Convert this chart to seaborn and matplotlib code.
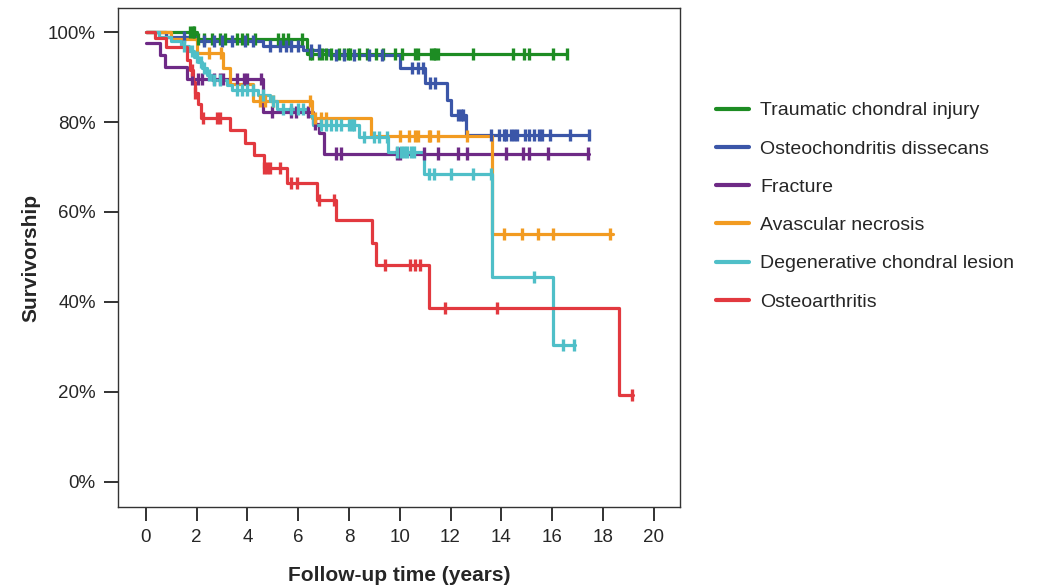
import numpy as np
import pandas as pd
import matplotlib
matplotlib.use("Agg")
import matplotlib.pyplot as plt
import seaborn as sns
from matplotlib.lines import Line2D
from matplotlib.ticker import PercentFormatter

# Kaplan-Meier style survivorship curves
groups = ['Traumatic chondral injury', 'Osteochondritis dissecans', 'Fracture',
          'Avascular necrosis', 'Degenerative chondral lesion', 'Osteoarthritis']
colors = ['#1d8c23', '#3b56a8', '#6e2a86', '#f29b21', '#4fbfc8', '#e2393f']

# step times (years) and survivorship (%) after each step
trauma_t = [0, 2.0, 6.35]
trauma_s = [100, 98.4, 95.2]
trauma_end = 16.6
trauma_cens = [1.75, 1.85, 1.9, 2.05, 2.3, 2.6, 2.9, 3.1, 3.6, 3.8, 4.0, 4.3, 5.2, 5.4,
               5.6, 6.15, 6.45, 6.55, 6.8, 6.95, 7.1, 7.3, 7.6, 7.8, 7.95, 8.05, 8.4, 8.7,
               9.05, 9.35, 9.8, 10.1, 10.6, 10.7, 11.25, 11.35, 11.4, 11.5, 12.9, 14.45,
               14.9, 15.1, 16.05, 16.6]

ocd_t = [0, 0.8, 2.0, 4.6, 6.2, 7.2, 10.0, 11.0, 11.85, 12.0, 12.6]
ocd_s = [100, 99.0, 98.0, 97.0, 95.9, 94.8, 91.9, 88.6, 85.0, 81.6, 77.2]
ocd_end = 17.45
ocd_cens = [1.5, 2.3, 2.7, 3.0, 3.4, 3.9, 4.2, 4.9, 5.3, 5.5, 5.7, 6.0, 6.5, 6.8, 7.5,
            7.8, 8.2, 8.8, 9.3, 10.5, 10.7, 10.9, 11.2, 11.4, 12.3, 12.4, 12.5, 13.6,
            13.9, 14.1, 14.2, 14.4, 14.5, 14.6, 14.95, 15.1, 15.3, 15.5, 15.6, 15.9,
            16.7, 17.45]

fract_t = [0, 0.55, 0.75, 1.6, 4.6, 6.6, 6.8, 7.0]
fract_s = [97.5, 95.0, 92.3, 89.6, 82.2, 79.5, 77.5, 73.0]
fract_end = 17.45
fract_cens = [1.8, 2.05, 2.2, 2.7, 2.9, 3.05, 3.6, 3.85, 4.0, 4.55, 4.95, 5.7, 5.9, 6.4,
              6.65, 7.5, 7.7, 9.9, 10.0, 10.95, 11.5, 12.3, 12.65, 14.2, 14.85, 15.1,
              15.85, 17.4]

avn_t = [0, 1.0, 2.0, 3.05, 3.3, 4.2, 6.55, 8.85, 13.65]
avn_s = [100, 98.5, 95.3, 92.0, 88.5, 84.6, 80.9, 76.9, 55.0]
avn_end = 18.4
avn_cens = [2.5, 2.95, 4.5, 4.7, 5.0, 6.45, 6.65, 6.9, 7.1, 10.0, 10.35, 10.6, 10.7,
            11.15, 11.2, 11.5, 12.65, 14.1, 14.8, 15.45, 16.05, 18.3]

degen_t = [0, 0.5, 1.0, 1.4, 1.7, 1.9, 2.05, 2.2, 2.4, 2.6, 3.2, 3.4, 4.4, 4.9, 5.15,
           6.4, 6.6, 8.4, 9.55, 10.95, 13.65, 16.05]
degen_s = [100, 99.0, 98.0, 97.0, 95.8, 94.5, 93.3, 92.0, 90.5, 89.4, 88.2, 87.1, 86.0,
           84.7, 83.0, 81.3, 79.3, 76.7, 73.4, 68.5, 45.6, 30.4]
degen_end = 16.9
degen_cens = [1.5, 1.8, 2.0, 2.15, 2.3, 2.5, 2.7, 2.9, 3.6, 3.8, 4.0, 4.2, 4.6, 5.0, 5.4,
              5.7, 6.0, 6.2, 6.9, 7.1, 7.3, 7.5, 7.7, 8.0, 8.1, 8.2, 8.6, 9.0, 9.2, 9.5,
              9.9, 10.05, 10.15, 10.3, 10.45, 10.55, 11.15, 11.35, 12.0, 12.9, 13.6,
              15.3, 16.45, 16.85]

oa_t = [0, 0.35, 0.8, 1.6, 1.75, 1.85, 1.95, 2.05, 2.15, 3.3, 3.9, 4.25, 4.65, 5.55,
        6.75, 7.5, 8.9, 9.05, 11.15, 18.65]
oa_s = [100, 98.7, 96.7, 93.8, 91.5, 89.0, 86.5, 84.0, 80.8, 78.3, 75.4, 72.7, 69.8,
        66.5, 62.7, 58.2, 53.0, 48.2, 38.6, 19.3]
oa_end = 19.2
oa_cens = [1.8, 1.95, 2.25, 2.8, 2.9, 4.65, 4.75, 4.9, 5.3, 5.7, 5.95, 6.8, 7.4, 9.4,
           10.4, 10.6, 10.8, 11.8, 13.85, 19.15]

curves = [
    (trauma_t, trauma_s, trauma_end, trauma_cens),
    (ocd_t, ocd_s, ocd_end, ocd_cens),
    (fract_t, fract_s, fract_end, fract_cens),
    (avn_t, avn_s, avn_end, avn_cens),
    (degen_t, degen_s, degen_end, degen_cens),
    (oa_t, oa_s, oa_end, oa_cens),
]

# build long tables for seaborn
step_rows = []
cens_rows = []
for name, (t, s, end, cens) in zip(groups, curves):
    for ti, si in zip(t + [end], s + [s[-1]]):
        step_rows.append({'time': ti, 'surv': si, 'group': name})
    for c in cens:
        idx = np.searchsorted(t, c, side='right') - 1
        cens_rows.append({'time': c, 'surv': s[idx], 'group': name})
steps = pd.DataFrame(step_rows)
censored = pd.DataFrame(cens_rows)

sns.set_theme(style="white")
plt.rcParams['font.family'] = ['Liberation Sans', 'DejaVu Sans']

fig = plt.figure(figsize=(10.5, 5.86), dpi=100)
ax = fig.add_axes([0.1124, 0.135, 0.5352, 0.851])

palette = dict(zip(groups, colors))
sns.lineplot(data=steps, x='time', y='surv', hue='group', palette=palette,
             drawstyle='steps-post', estimator=None, sort=False, linewidth=2.3,
             legend=False, ax=ax)
sns.scatterplot(data=censored, x='time', y='surv', hue='group', palette=palette,
                marker='|', s=75, linewidth=2.4, legend=False, ax=ax, zorder=3)

ax.set_xlim(-1.1, 21.04)
ax.set_ylim(-5.56, 105.3)
ax.set_xticks(np.arange(0, 21, 2))
ax.set_yticks(np.arange(0, 101, 20))
ax.yaxis.set_major_formatter(PercentFormatter(decimals=0))
ax.tick_params(axis='both', which='major', direction='out', length=10, width=1.3,
               color='#222222', labelsize=13.5, bottom=True, left=True, pad=6)
for sp in ax.spines.values():
    sp.set_color('#333333')
    sp.set_linewidth(1.0)

ax.set_xlabel('Follow-up time (years)', fontsize=15, fontweight='bold', labelpad=14)
ax.set_ylabel('Survivorship', fontsize=15, fontweight='bold', labelpad=5)

handles = [Line2D([0], [0], color=c, lw=3) for c in colors]
fig.legend(handles, groups, loc='upper left', bbox_to_anchor=(0.665, 0.856),
           frameon=False, fontsize=14, handlelength=1.7, handletextpad=0.6,
           labelspacing=1.06)

fig.savefig('out.png', dpi=100)
